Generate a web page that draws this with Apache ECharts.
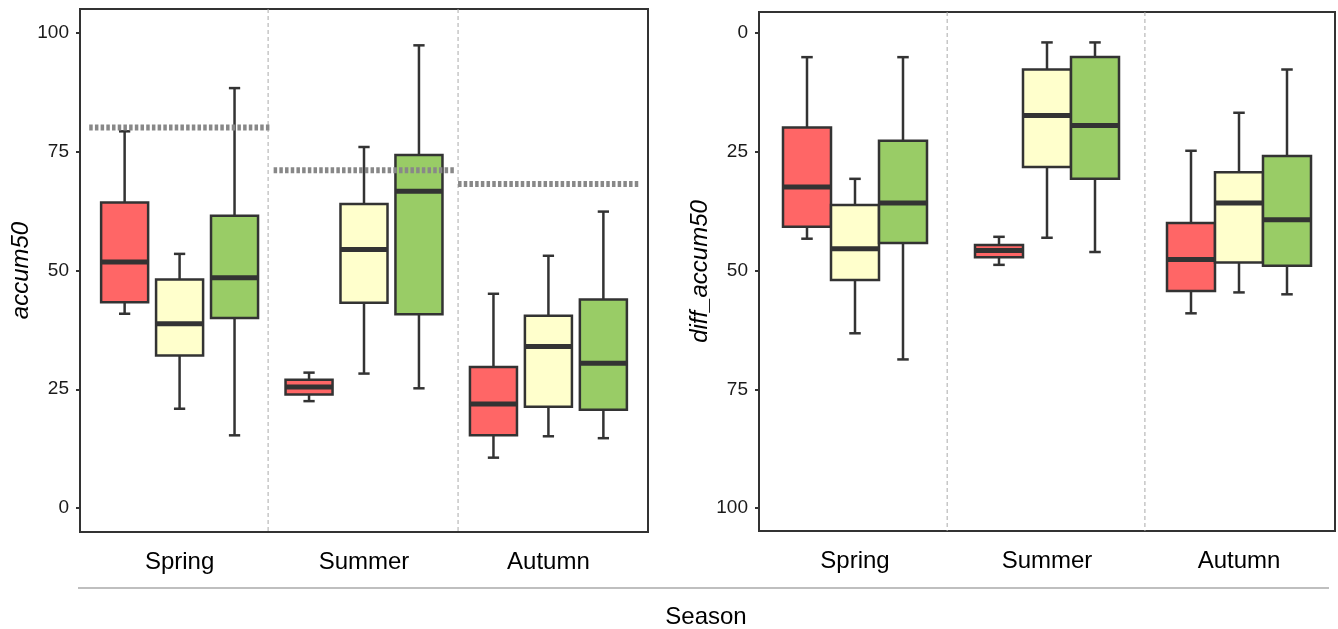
<!DOCTYPE html>
<html>
<head>
<meta charset="utf-8">
<script src="https://cdn.jsdelivr.net/npm/echarts@6.0.0/dist/echarts.min.js"></script>
<style>
  html, body { margin: 0; padding: 0; background: #fff; }
  #chart { width: 1338px; height: 629px; }
</style>
</head>
<body>
<div id="chart"></div>
<script>
const seasons = ['Spring', 'Summer', 'Autumn']
const groupColors = ['#FF6666', '#FFFFCC', '#99CC66']
const yTicks = [0, 25, 50, 75, 100]
const separators = [1.48, 2.51]

// each row: [whisker low, q1, median, q3, whisker high], one row per season
const accumRed = [[40.9, 43.3, 51.8, 64.3, 79.3], [22.5, 23.9, 25.5, 27.0, 28.5], [10.6, 15.3, 21.9, 29.7, 45.1]]
const accumYellow = [[20.9, 32.1, 38.8, 48.1, 53.5], [28.3, 43.2, 54.4, 64.0, 76.0], [15.1, 21.3, 34.0, 40.5, 53.1]]
const accumGreen = [[15.3, 40.0, 48.5, 61.5, 88.4], [25.2, 40.8, 66.7, 74.3, 97.4], [14.7, 20.7, 30.5, 43.9, 62.4]]
const accumRef = [80.1, 71.1, 68.2]

const diffRed = [[5.1, 19.9, 32.4, 40.8, 43.3], [42.9, 44.6, 45.8, 47.2, 48.8], [24.8, 40.0, 47.7, 54.3, 59.0]]
const diffYellow = [[30.7, 36.2, 45.4, 52.0, 63.2], [2.0, 7.7, 17.4, 28.2, 43.1], [16.8, 29.3, 35.8, 48.3, 54.6]]
const diffGreen = [[5.1, 22.7, 35.8, 44.2, 68.7], [2.0, 5.05, 19.5, 30.7, 46.1], [7.7, 25.9, 39.3, 49.0, 55.0]]

const FONT = '"Liberation Sans", Arial, sans-serif'
const DARK = '#333333'

const chart = echarts.init(document.getElementById('chart'))

// box + whiskers + caps + median, placed by the axis scales
const boxSeries = (grid, rows, groupIdx, step, width) => ({
    type: 'custom',
    xAxisIndex: grid,
    yAxisIndex: grid,
    z: 3,
    data: rows.map((r, i) => [i + 1, ...r]),
    encode: { x: 0, y: [1, 2, 3, 4, 5] },
    renderItem: (params, api) => {
        const x = api.value(0) + (groupIdx - 1) * step
        const low = api.coord([x, api.value(1)])
        const q1 = api.coord([x, api.value(2)])
        const med = api.coord([x, api.value(3)])
        const q3 = api.coord([x, api.value(4)])
        const high = api.coord([x, api.value(5)])
        const w = api.size([width, 0])[0]
        const cx = med[0]
        const cap = w * 0.12
        const line = (x1, y1, x2, y2, lw) => ({
            type: 'line',
            shape: { x1, y1, x2, y2 },
            style: { stroke: DARK, lineWidth: lw }
        })
        return {
            type: 'group',
            children: [
                line(cx, low[1], cx, high[1], 2.5),
                line(cx - cap, low[1], cx + cap, low[1], 2.5),
                line(cx - cap, high[1], cx + cap, high[1], 2.5),
                {
                    type: 'rect',
                    shape: { x: cx - w / 2, y: Math.min(q1[1], q3[1]), width: w, height: Math.abs(q1[1] - q3[1]) },
                    style: { fill: groupColors[groupIdx], stroke: DARK, lineWidth: 2.5 }
                },
                line(cx - w / 2, med[1], cx + w / 2, med[1], 5)
            ]
        }
    }
})

const sepSeries = (grid) => ({
    type: 'custom',
    xAxisIndex: grid,
    yAxisIndex: grid,
    z: 1,
    silent: true,
    data: separators.map(v => [v]),
    encode: { x: 0 },
    renderItem: (params, api) => {
        const cs = params.coordSys
        const px = api.coord([api.value(0), 50])[0]
        return {
            type: 'line',
            shape: { x1: px, y1: cs.y, x2: px, y2: cs.y + cs.height },
            style: { stroke: '#aaaaaa', lineWidth: 1, lineDash: [4, 3] }
        }
    }
})

const refSeries = {
    type: 'custom',
    xAxisIndex: 0,
    yAxisIndex: 0,
    z: 5,
    silent: true,
    data: accumRef.map((v, i) => [i + 1, v]),
    encode: { x: 0, y: 1 },
    renderItem: (params, api) => {
        const a = api.coord([api.value(0) - 0.49, api.value(1)])
        const b = api.coord([api.value(0) + 0.49, api.value(1)])
        return {
            type: 'line',
            shape: { x1: a[0], y1: a[1], x2: b[0], y2: b[1] },
            style: { stroke: '#888888', lineWidth: 6, lineDash: [3.5, 2.2] }
        }
    }
}

const xAxisBase = (grid, min, max) => ({
    type: 'value',
    gridIndex: grid,
    min, max,
    axisLine: { show: false },
    axisTick: { show: false },
    splitLine: { show: false },
    axisLabel: {
        customValues: [1, 2, 3],
        formatter: v => seasons[Math.round(v) - 1],
        fontSize: 24, fontFamily: FONT, color: '#000', margin: 18
    }
})

const yAxisBase = (grid, min, max, name, inverse, gap) => ({
    type: 'value',
    gridIndex: grid,
    min, max, inverse,
    name,
    nameLocation: 'middle',
    nameGap: gap,
    nameTextStyle: { fontSize: 24, fontStyle: 'italic', fontFamily: FONT, color: '#000' },
    axisLine: { show: true, lineStyle: { color: DARK, width: 2 } },
    axisTick: { show: true, length: 4, customValues: yTicks, lineStyle: { color: DARK, width: 2 } },
    axisLabel: { customValues: yTicks, fontSize: 19, fontFamily: FONT, color: '#1a1a1a', margin: 11 },
    splitLine: { show: false }
})

chart.setOption({
    animation: false,
    backgroundColor: '#fff',
    grid: [
        { left: 80, right: 690, top: 9, bottom: 97, show: true, borderColor: DARK, borderWidth: 2, backgroundColor: 'transparent' },
        { left: 759, right: 3, top: 12, bottom: 98, show: true, borderColor: DARK, borderWidth: 2, backgroundColor: 'transparent' }
    ],
    xAxis: [xAxisBase(0, 0.46, 3.54), xAxisBase(1, 0.5, 3.5)],
    yAxis: [
        yAxisBase(0, -5.05, 105.05, 'accum50', false, 43),
        yAxisBase(1, -4.4, 104.8, 'diff_accum50', true, 47)
    ],
    graphic: [
        { type: 'line', shape: { x1: 78, y1: 588, x2: 1329, y2: 588 }, style: { stroke: '#aaaaaa', lineWidth: 1.5 } },
        { type: 'text', x: 706, y: 617, style: { text: 'Season', fontSize: 24, fontFamily: FONT, fill: '#000', align: 'center', verticalAlign: 'middle' } }
    ],
    series: [
        sepSeries(0),
        sepSeries(1),
        boxSeries(0, accumRed, 0, 0.298, 0.255),
        boxSeries(0, accumYellow, 1, 0.298, 0.255),
        boxSeries(0, accumGreen, 2, 0.298, 0.255),
        refSeries,
        boxSeries(1, diffRed, 0, 0.25, 0.25),
        boxSeries(1, diffYellow, 1, 0.25, 0.25),
        boxSeries(1, diffGreen, 2, 0.25, 0.25)
    ]
})
</script>
</body>
</html>
